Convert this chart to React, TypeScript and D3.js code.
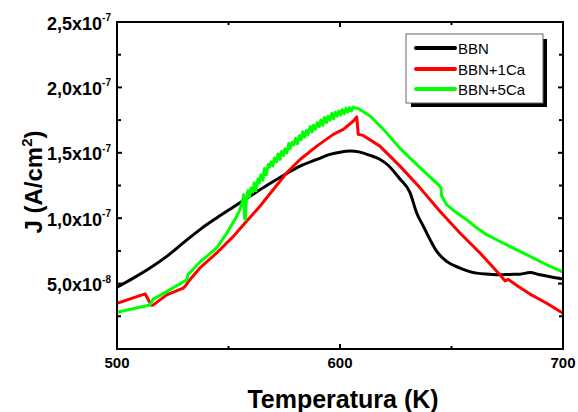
import React from 'react';
import * as d3 from 'd3';

// ---- data (J in units of 1e-7 A/cm^2, T in K) ----
const bbn: [number, number][] = [
  [500, 0.473], [507.3, 0.542], [514.8, 0.619], [522.3, 0.708], [529.7, 0.811],
  [537.2, 0.913], [544.7, 1.002], [552.2, 1.086], [559.6, 1.168], [567.1, 1.25],
  [574.6, 1.327], [582.1, 1.398], [589.6, 1.449], [595.5, 1.488], [600, 1.505],
  [604.5, 1.513], [609, 1.505], [613.5, 1.48], [618, 1.449], [621.7, 1.403],
  [624.5, 1.35], [626.9, 1.3], [631.4, 1.196], [634.4, 1.04], [637.4, 0.938],
  [640.4, 0.836], [643.4, 0.746], [647.8, 0.67], [653.8, 0.619], [661.3, 0.58],
  [667, 0.572], [671.7, 0.567], [676, 0.57], [680.7, 0.572], [685.2, 0.585],
  [689.7, 0.567], [694.2, 0.552], [700, 0.535],
];

const bbn1Ca: [number, number][] = [
  [500, 0.35], [512.6, 0.422], [515.4, 0.335], [516.3, 0.337], [522.3, 0.414],
  [529.7, 0.465], [531.0, 0.49], [532.0, 0.516], [537.2, 0.62], [544.7, 0.734],
  [552.2, 0.861], [557.4, 0.963], [564.1, 1.091], [570.1, 1.219], [576.1, 1.347],
  [582.1, 1.449], [589.6, 1.551], [597.0, 1.641], [601.5, 1.679], [606.0, 1.743],
  [607.5, 1.775], [608.2, 1.641], [610.4, 1.633], [617.9, 1.551], [626.9, 1.398],
  [635.9, 1.232], [644.8, 1.053], [653.8, 0.887], [662.8, 0.734], [671.7, 0.567],
  [674.0, 0.521], [675.5, 0.532], [680.0, 0.478], [685.2, 0.42], [692.7, 0.35],
  [700, 0.274],
];

const bbn5Ca: [number, number][] = [
  [500, 0.281], [514.8, 0.337], [515.5, 0.36], [516.3, 0.381], [522.3, 0.439],
  [531.3, 0.529], [531.8, 0.567], [537.2, 0.665], [544.7, 0.772], [549, 0.88],
  [553.7, 1.015], [555, 1.06], [556.3, 1.13], [556.8, 1.18], [557.2, 1.0],
  [557.6, 0.99], [558, 1.14], [558.7, 1.21], [559.3, 1.16], [560.1, 1.23],
  [560.9, 1.2], [561.5, 1.27], [562.3, 1.21], [563.2, 1.3], [563.8, 1.27],
  [564.5, 1.33], [565.4, 1.29], [566.1, 1.38], [566.9, 1.33], [567.8, 1.41],
  [568.3, 1.39], [569.1, 1.43], [569.9, 1.4], [570.6, 1.46], [571.5, 1.43],
  [572.2, 1.49], [573.1, 1.45], [573.8, 1.51], [574.7, 1.48], [575.3, 1.53],
  [576.2, 1.5], [577.0, 1.57], [577.6, 1.53], [578.5, 1.58], [579.3, 1.56],
  [580.1, 1.61], [580.9, 1.57], [581.8, 1.63], [582.6, 1.6], [583.3, 1.66],
  [584.2, 1.62], [585.0, 1.67], [585.7, 1.64], [586.6, 1.7], [587.5, 1.66],
  [588.1, 1.71], [589.0, 1.68], [589.8, 1.73], [590.7, 1.7], [591.4, 1.75],
  [592.3, 1.71], [593.0, 1.77], [593.9, 1.73], [594.6, 1.78], [595.5, 1.75],
  [596.3, 1.8], [597.1, 1.76], [597.9, 1.81], [598.6, 1.78], [599.5, 1.82],
  [600.3, 1.79], [601.0, 1.83], [601.9, 1.8], [602.7, 1.84], [603.5, 1.81],
  [604.3, 1.845], [605.1, 1.82], [606.0, 1.85], [607, 1.84], [608, 1.84],
  [613.5, 1.781], [619.5, 1.679], [626.9, 1.534], [635.9, 1.387], [644.8, 1.245],
  [645.3, 1.232], [645.6, 1.168], [647.8, 1.104], [652, 1.045], [656.8, 0.989],
  [661, 0.93], [665.8, 0.874], [672, 0.82], [680.7, 0.746], [685.2, 0.708],
  [692.7, 0.644], [700, 0.59],
];

const seriesNames = ['BBN', 'BBN+1Ca', 'BBN+5Ca'];
const seriesColors = ['#000000', '#ff0000', '#00ff00'];

const xMajorTicks = [500, 600, 700];
const xMinorTicks = [550, 650];
const yMajorTicks = [0.5, 1.0, 1.5, 2.0, 2.5];
const yMinorTicks = [0.25, 0.75, 1.25, 1.75, 2.25];
const yTickMantissa = ['5,0x10', '1,0x10', '1,5x10', '2,0x10', '2,5x10'];
const yTickExponent = ['-8', '-7', '-7', '-7', '-7'];

const W = 578;
const H = 412;
const L = 117, R = 563, T = 22, B = 349;
const FONT = "'Liberation Sans', Arial, Helvetica, sans-serif";

export default function App() {
  const x = d3.scaleLinear().domain([500, 700]).range([L, R]);
  const y = d3.scaleLinear().domain([0, 2.5]).range([B, T]);
  const smooth = d3
    .line<[number, number]>()
    .x((d) => x(d[0]))
    .y((d) => y(d[1]))
    .curve(d3.curveMonotoneX);
  const straight = d3
    .line<[number, number]>()
    .x((d) => x(d[0]))
    .y((d) => y(d[1]));

  const paths = [smooth(bbn), straight(bbn1Ca), straight(bbn5Ca)];
  const legendY = [48, 69, 89];

  return (
    <svg
      width={W}
      height={H}
      style={{ position: 'absolute', left: 0, top: 0, background: '#fff' }}
      fontFamily={FONT}
    >
      <defs>
        <clipPath id="plotclip">
          <rect x={L} y={T} width={R - L} height={B - T} />
        </clipPath>
      </defs>
      <rect x={0} y={0} width={W} height={H} fill="#fff" />

      <g clipPath="url(#plotclip)">
        {paths.map((p, i) => (
          <path
            key={i}
            d={p || ''}
            fill="none"
            stroke={seriesColors[i]}
            strokeWidth={3}
            strokeLinejoin="round"
            strokeLinecap="round"
          />
        ))}
      </g>

      {/* frame */}
      <rect x={L} y={T} width={R - L} height={B - T} fill="none" stroke="#000" strokeWidth={2} />

      {/* x ticks (bottom + top, inward) */}
      {xMajorTicks.map((t) => (
        <g key={'xm' + t}>
          <line x1={x(t)} x2={x(t)} y1={B} y2={B - 5} stroke="#000" strokeWidth={2} />
          <line x1={x(t)} x2={x(t)} y1={T} y2={T + 5} stroke="#000" strokeWidth={2} />
          <text x={x(t)} y={368} textAnchor="middle" fontSize={15} fontWeight="bold">
            {t}
          </text>
        </g>
      ))}
      {xMinorTicks.map((t) => (
        <g key={'xn' + t}>
          <line x1={x(t)} x2={x(t)} y1={B} y2={B - 3} stroke="#000" strokeWidth={2} />
          <line x1={x(t)} x2={x(t)} y1={T} y2={T + 3} stroke="#000" strokeWidth={2} />
        </g>
      ))}

      {/* y ticks (left + right, inward) */}
      {yMajorTicks.map((t, i) => (
        <g key={'ym' + t}>
          <line x1={L} x2={L + 5} y1={y(t)} y2={y(t)} stroke="#000" strokeWidth={2} />
          <line x1={R} x2={R - 5} y1={y(t)} y2={y(t)} stroke="#000" strokeWidth={2} />
          <text x={111} y={y(t) + 7.5} textAnchor="end" fontSize={18} fontWeight="bold">
            <tspan>{yTickMantissa[i]}</tspan>
            <tspan fontSize={10} dy={-8.5}>
              {yTickExponent[i]}
            </tspan>
          </text>
        </g>
      ))}
      {yMinorTicks.map((t) => (
        <g key={'yn' + t}>
          <line x1={L} x2={L + 4} y1={y(t)} y2={y(t)} stroke="#000" strokeWidth={2} />
          <line x1={R} x2={R - 4} y1={y(t)} y2={y(t)} stroke="#000" strokeWidth={2} />
        </g>
      ))}

      {/* axis titles */}
      <text x={343} y={408} textAnchor="middle" fontSize={25} fontWeight="bold">
        Temperatura (K)
      </text>
      <text
        transform="translate(42,182) rotate(-90)"
        textAnchor="middle"
        fontSize={24}
        fontWeight="bold"
      >
        <tspan>J (A/cm</tspan>
        <tspan fontSize={15} dy={-10}>
          2
        </tspan>
        <tspan dy={10}>)</tspan>
      </text>

      {/* legend */}
      <rect x={411} y={39} width={136} height={68} fill="#000" />
      <rect x={406} y={34} width={137} height={69} fill="#fff" stroke="#666" strokeWidth={1} />
      {seriesNames.map((n, i) => (
        <g key={n}>
          <line
            x1={416}
            x2={455}
            y1={legendY[i]}
            y2={legendY[i]}
            stroke={seriesColors[i]}
            strokeWidth={4}
            strokeLinecap="round"
          />
          <text x={458} y={legendY[i] + 5.5} fontSize={15}>
            {n}
          </text>
        </g>
      ))}
    </svg>
  );
}
